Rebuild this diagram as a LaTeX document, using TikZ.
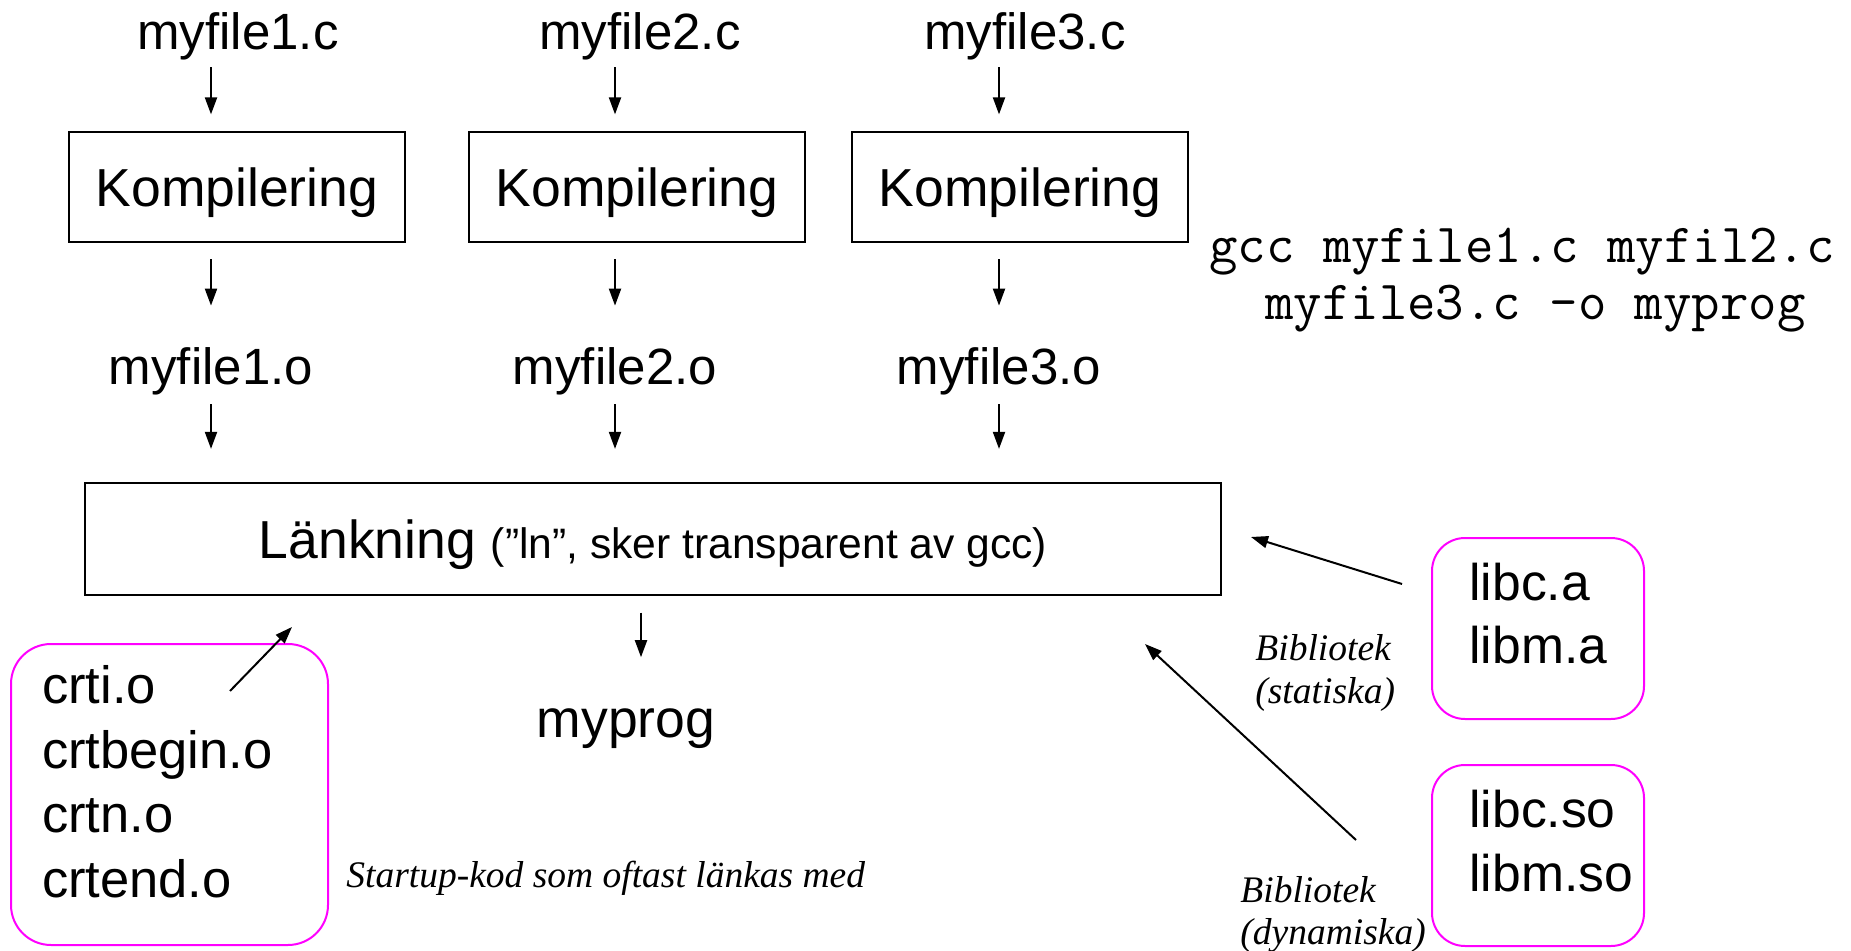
\documentclass[tikz,border=0pt]{standalone}
\usepackage{fontspec}
\setmainfont{Liberation Sans}
\newfontfamily\notefont{Liberation Serif}
\usetikzlibrary{arrows.meta,positioning}
\definecolor{slidemagenta}{RGB}{255,0,255}
\newcommand{\bigsize}{\fontsize{26.75}{32}\selectfont}
\tikzset{
	filelabel/.style={inner sep=0pt, anchor=base, font=\fontsize{25.5}{30}\selectfont},
	stepbox/.style={draw, line width=1.1pt, minimum width=168pt, minimum height=55pt, text depth=0pt, font=\bigsize},
	crtlabel/.style={inner sep=0pt, anchor=base west, font=\fontsize{26.25}{31}\selectfont},
	liblabel/.style={inner sep=0pt, anchor=base west, font=\fontsize{25.8}{30}\selectfont},
	libbox/.style={draw=slidemagenta, line width=1pt, rounded corners=16.5pt, minimum width=106pt, minimum height=90.5pt},
	notelabel/.style={inner sep=0pt, anchor=base west, font=\notefont\itshape\fontsize{18.75}{22}\selectfont},
	cmdlabel/.style={inner sep=0pt, anchor=base west, font=\ttfamily\fontsize{27.6}{32}\selectfont},
	diredge/.style={-{Triangle[length=8.5pt,width=6pt]}, line width=1pt}
}

\begin{document}
\begin{tikzpicture}[x=0.5pt,y=-0.5pt]
				\useasboundingbox (0,0) rectangle (1851,951);
				
				%%%% source files
				\node[filelabel] (f1c) at (238,50) {myfile1.c};
				\node[filelabel] (f2c) at (640,50) {myfile2.c};
				\node[filelabel] (f3c) at (1025,50) {myfile3.c};
				
				%%%% compile steps
				\node[stepbox] (k1) at (237,187) {Kompilering};
				\node[stepbox] (k2) at (637,187) {Kompilering};
				\node[stepbox] (k3) at (1020,187) {Kompilering};
				
				%%%% object files
				\node[filelabel] (f1o) at (211,385) {myfile1.o};
				\node[filelabel] (f2o) at (615,385) {myfile2.o};
				\node[filelabel] (f3o) at (999,385) {myfile3.o};
				
				%%%% linking
				\node[stepbox, minimum width=568pt, minimum height=56pt] (lnk) at (653,539) {Länkning {\fontsize{21.3}{25}\selectfont(”ln”, sker transparent av gcc)}};
				\node[inner sep=0pt, anchor=base, font=\bigsize] (prog) at (626,737) {myprog};
				
				\foreach \fc/\fk/\fo in {f1c/k1/f1o, f2c/k2/f2o, f3c/k3/f3o}{
					\draw[diredge, shorten <=3.2pt, shorten >=8.25pt] (\fc.south -| \fo) -- (\fk.north -| \fo);
					\draw[diredge, shorten <=8pt, shorten >=21pt] (\fk.south -| \fo) -- (\fo.north);
					\draw[diredge, shorten <=4.2pt, shorten >=16.5pt] (\fo.south) -- (\fo.south |- lnk.north);
				}
				\draw[diredge, shorten <=8.3pt, shorten >=25.3pt] ([xshift=-6pt]lnk.south) -- ([xshift=-6pt]lnk.south |- prog.north);
				
				%%%% startup code
				\node[libbox, rounded corners=20pt, minimum width=158.5pt, minimum height=150.5pt] (crtbox) at (169.5,794.5) {};
				\node[crtlabel] (crti) at (41.7,703) {crti.o};
				\node[crtlabel] (crtbeg) at (41.7,768) {crtbegin.o};
				\node[crtlabel] (crtn) at (41.7,832) {crtn.o};
				\node[crtlabel] (crtend) at (41.7,897) {crtend.o};
				\node[notelabel] (startup) at (346,887) {Startup-kod som oftast länkas med};
				\coordinate (crtfrom) at (230,691);
				\coordinate (crtto) at (292,627);
				\draw[diredge] (crtfrom) -- (crtto);
				
				%%%% command line
				\node[cmdlabel] (gcc1) at (1209,263) {gcc myfile1.c myfil2.c};
				\node[cmdlabel] (gcc2) at (1265,320) {myfile3.c -o myprog};
				
				%%%% libraries
				\node[libbox] (stat) at (1538,628.5) {};
				\node[liblabel] (libca) at (1469,600) {libc.a};
				\node[liblabel] (libma) at (1469,663) {libm.a};
				\node[libbox] (dyn) at (1538,855.5) {};
				\node[liblabel] (libcso) at (1469,827) {libc.so};
				\node[liblabel] (libmso) at (1469,891) {libm.so};
				
				\node[notelabel] (bib1) at (1255,660) {Bibliotek};
				\node[notelabel] (bib1s) at (1255,703) {(statiska)};
				\node[notelabel] (bib2) at (1240,902) {Bibliotek};
				\node[notelabel] (bib2d) at (1240,944) {(dynamiska)};
				
				\coordinate (statfrom) at (1402,584);
				\coordinate (statto) at (1251,537);
				\coordinate (dynfrom) at (1356,840);
				\coordinate (dynto) at (1145,644);
				\draw[diredge] (statfrom) -- (statto);
				\draw[diredge] (dynfrom) -- (dynto);
				
		\end{tikzpicture}
\end{document}
